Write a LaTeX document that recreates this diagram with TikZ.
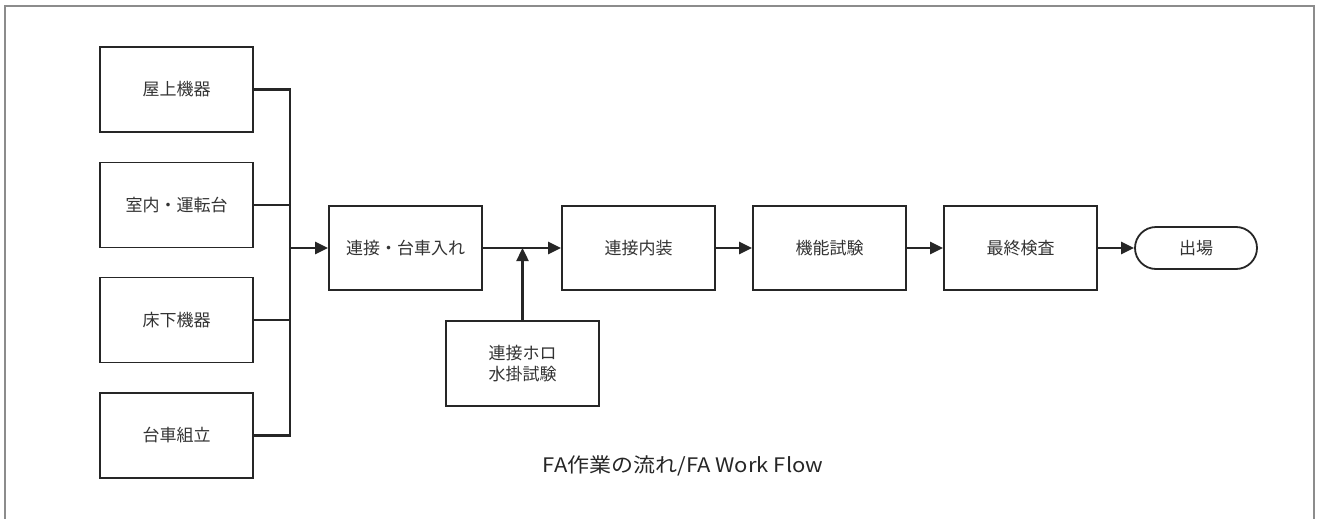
\documentclass[tikz,border=0pt]{standalone}
\usepackage{fontspec}
\setmainfont{Noto Sans CJK JP}
\newfontfamily\jpfont{Noto Sans CJK JP}
\usetikzlibrary{arrows.meta,shapes.misc}
\begin{document}
\begin{tikzpicture}[x=1pt,y=-1pt,
  stepbox/.style={draw=black!85,line width=1.8pt,minimum width=153pt,minimum height=85pt,inner sep=0pt,font=\jpfont\fontsize{17}{21}\selectfont,align=center,text=black!80},
  conn/.style={draw=black!85,line width=2.4pt},
  arr/.style={conn,-{Triangle[length=13pt,width=12pt]}},
  frame/.style={draw=black!45,line width=1.5pt}]
\useasboundingbox (0,0) rectangle (1319,519);
\draw[frame] (5,519) -- (5,6) -- (1314,6) -- (1314,519);
\node[stepbox] (b1) at (176.5,89.5) {屋上機器};
\node[stepbox] (b2) at (176.5,205) {室内・運転台};
\node[stepbox] (b3) at (176.5,320) {床下機器};
\node[stepbox] (b4) at (176.5,435.5) {台車組立};
\node[stepbox,minimum height=84pt] (rend) at (405.5,248) {連接・台車入れ};
\node[stepbox,minimum height=84pt] (nai) at (638.5,248) {連接内装};
\node[stepbox,minimum height=84pt] (kin) at (829.5,248) {機能試験};
\node[stepbox,minimum height=84pt] (sai) at (1020.5,248) {最終検査};
\node[stepbox] (horo) at (522.5,363.5) {連接ホロ\\水掛試験};
\node[draw=black!85,line width=1.8pt,rounded rectangle,minimum width=122pt,minimum height=42pt,inner sep=0pt,font=\jpfont\fontsize{17}{21}\selectfont,text=black!80] (out) at (1196,248) {出場};
\coordinate (bt) at (290,89.5);
\coordinate (bb) at (290,435.5);
\coordinate (bm) at (290,248);
\coordinate (j) at (522.5,248);
\draw[conn] (b1.east) -- (b1.east -| bt) -- (bb) -- (b4.east);
\draw[conn] (b2.east) -- (b2.east -| bt);
\draw[conn] (b3.east) -- (b3.east -| bt);
\draw[arr] (bm) -- (rend.west);
\draw[arr] (rend.east) -- (nai.west);
\draw[arr] (horo.north) -- (j);
\draw[arr] (nai.east) -- (kin.west);
\draw[arr] (kin.east) -- (sai.west);
\draw[arr] (sai.east) -- (out.west);
\node[font=\jpfont\fontsize{20}{23}\selectfont,text=black!85] (cap) at (683,466) {\scalebox{1.1}[1]{FA作業の流れ/FA Work Flow}};
\end{tikzpicture}
\end{document}
